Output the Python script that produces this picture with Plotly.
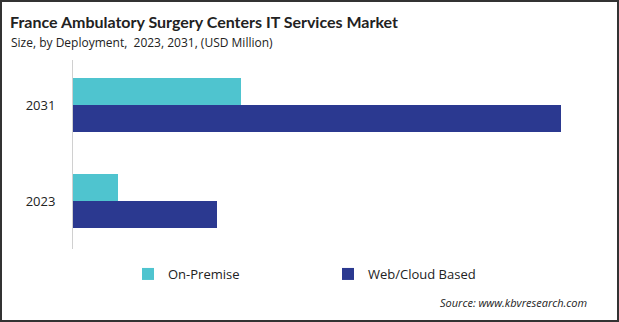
import plotly.graph_objects as go

years = ["2023", "2031"]
on_premise = [4.5, 16.8]
web_cloud = [14.4, 48.8]
series_names = ["On-Premise", "Web/Cloud Based"]
colors = ["#4FC4CF", "#2B3990"]

W, H = 619, 322
ml, mr, mt, mb = 73, 29, 60, 73
pw, ph = W - ml - mr, H - mt - mb

def px_x(p):
    return (p - ml) / pw

def px_y(p):
    return (H - mb - p) / ph

fig = go.Figure()
# horizontal grouped bars: first trace is drawn at the bottom of each group
fig.add_trace(go.Bar(y=years, x=web_cloud, name=series_names[1], orientation="h", legendrank=2,
                     marker=dict(color=colors[1], line=dict(width=0))))
fig.add_trace(go.Bar(y=years, x=on_premise, name=series_names[0], orientation="h", legendrank=1,
                     marker=dict(color=colors[0], line=dict(width=0))))

font_family = "Open Sans, Segoe UI, DejaVu Sans, sans-serif"

fig.update_layout(
    width=W, height=H,
    margin=dict(l=ml, r=mr, t=mt, b=mb),
    paper_bgcolor="white", plot_bgcolor="white",
    barmode="group", bargap=0.4375, bargroupgap=0,
    font=dict(family=font_family, color="#222222"),
    showlegend=True,
    legend=dict(orientation="h", x=px_x(128), y=px_y(259), xanchor="left", yanchor="top",
                entrywidth=155, entrywidthmode="pixels",
                font=dict(size=13, color="#222222"), itemwidth=30),
    xaxis=dict(range=[0, pw / 10], showgrid=False, zeroline=False, showticklabels=False,
               showline=False, fixedrange=True),
    yaxis=dict(type="category", categoryorder="array", categoryarray=years,
               range=[-0.5, 1.469], showgrid=False, zeroline=False,
               showline=True, linecolor="#D0D0D0", linewidth=1,
               ticks="outside", ticklen=14, tickcolor="rgba(0,0,0,0)",
               tickfont=dict(size=13, color="#222222"), fixedrange=True),
    annotations=[
        dict(text="<b>France Ambulatory Surgery Centers IT Services Market</b>",
             xref="paper", yref="paper", x=px_x(8), y=px_y(22), xanchor="left", yanchor="middle",
             showarrow=False, font=dict(size=16, color="#222222", family="Lato, Open Sans, sans-serif")),
        dict(text="Size, by Deployment,  2023, 2031, (USD Million)",
             xref="paper", yref="paper", x=px_x(9), y=px_y(43), xanchor="left", yanchor="middle",
             showarrow=False, font=dict(size=12, color="#222222", family=font_family)),
        dict(text="<i>Source: www.kbvresearch.com</i>",
             xref="paper", yref="paper", x=px_x(589), y=px_y(302), xanchor="right", yanchor="middle",
             showarrow=False, font=dict(size=11, color="#222222", family=font_family)),
    ],
    shapes=[
        dict(type="rect", xref="paper", yref="paper",
             x0=px_x(1), x1=px_x(618), y0=px_y(321), y1=px_y(1),
             line=dict(color="#333333", width=2), fillcolor="rgba(0,0,0,0)", layer="above"),
    ],
)

fig.write_html("out.html")
